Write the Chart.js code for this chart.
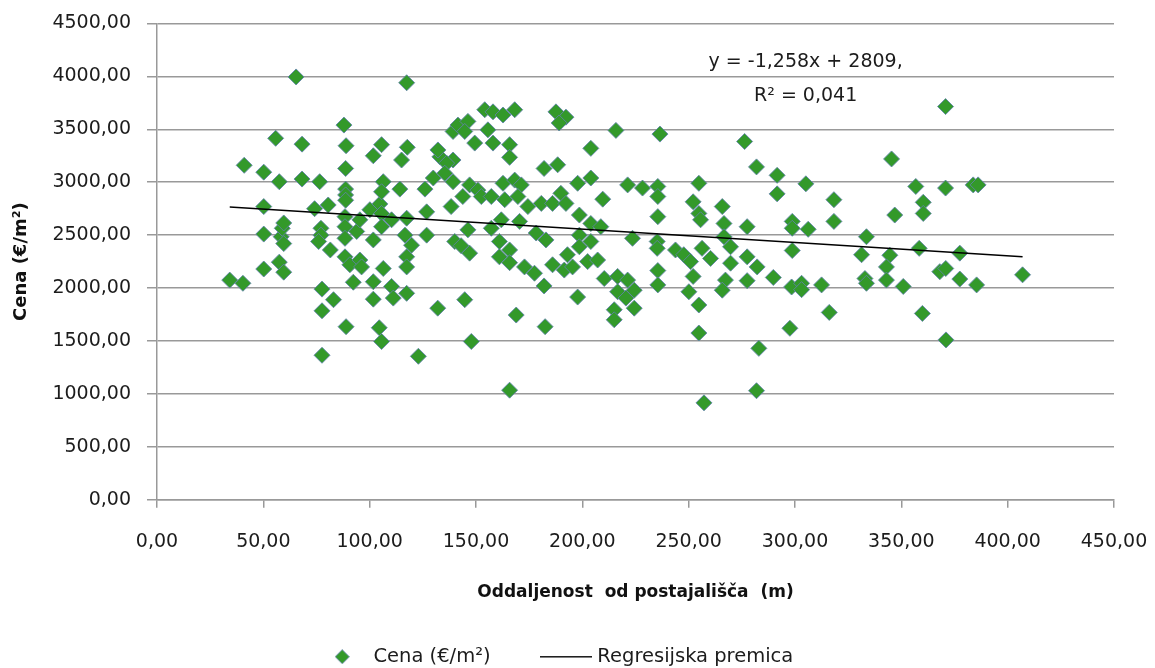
<!DOCTYPE html>
<html>
<head>
<meta charset="utf-8">
<script src="https://cdn.jsdelivr.net/npm/chart.js@4.4.1/dist/chart.umd.min.js"></script>
<style>
  html, body { margin: 0; padding: 0; background: #ffffff; }
  #wrap { width: 1155px; height: 668px; }
</style>
</head>
<body>
<div id="wrap"><canvas id="graf" width="1155" height="668"></canvas></div>
<script>
// Oddaljenost stanovanja od postajališča (m)
const oddaljenost = [
  34.2, 40.4, 41.0, 50.2, 50.2, 50.2, 50.2, 55.8, 57.5, 57.5,
  58.4, 58.9, 59.6, 59.6, 59.6, 65.4, 68.2, 68.2, 74.1, 76.5,
  77.1, 77.1, 76.0, 77.6, 77.6, 77.6, 80.5, 81.5, 83.0, 87.9,
  88.9, 88.7, 88.7, 88.7, 88.7, 88.4, 88.4, 88.4, 88.4, 88.9,
  90.7, 92.3, 93.9, 95.4, 95.4, 96.2, 100.1, 101.7, 101.7, 101.7,
  101.7, 104.8, 105.6, 106.4, 105.6, 105.6, 105.6, 106.4, 104.5, 105.6,
  110.3, 110.3, 111.1, 114.2, 115.0, 117.7, 117.4, 117.4, 116.6, 117.4,
  117.4, 117.4, 119.7, 122.9, 126.0, 126.8, 126.8, 129.9, 133.0, 132.1,
  139.2, 136.2, 135.3, 139.2, 132.0, 139.2, 141.5, 146.2, 144.7, 149.4,
  155.6, 158.0, 154.1, 158.0, 162.7, 168.2, 165.8, 165.8, 147.0, 150.9,
  162.7, 168.2, 171.3, 138.3, 143.8, 152.5, 157.2, 163.5, 169.7, 174.4,
  180.7, 146.2, 157.2, 161.9, 170.5, 178.3, 140.0, 143.0, 147.0, 161.0,
  165.8, 161.0, 165.8, 172.8, 177.5, 182.0, 144.7, 168.9, 182.5, 147.8,
  165.8, 182.0, 187.6, 192.3, 189.1, 215.8, 204.0, 188.4, 197.8, 204.0,
  221.3, 228.3, 189.9, 186.0, 192.3, 209.6, 198.6, 204.0, 208.7, 223.6,
  182.9, 198.6, 204.0, 198.6, 193.0, 186.0, 191.5, 195.4, 202.5, 207.2,
  210.3, 216.6, 221.3, 216.6, 220.5, 224.4, 224.4, 197.8, 215.0, 215.0,
  236.5, 276.3, 281.9, 235.5, 235.5, 254.8, 252.1, 254.8, 255.6, 265.8,
  266.6, 277.5, 235.5, 235.2, 235.2, 243.8, 247.7, 250.9, 256.3, 260.3,
  266.6, 269.7, 269.7, 277.5, 282.2, 235.5, 235.5, 252.1, 250.1, 254.8,
  267.3, 265.8, 277.5, 254.8, 283.0, 281.9, 257.2, 370.8, 345.4, 291.6,
  291.6, 305.1, 318.3, 318.3, 356.8, 370.8, 383.8, 386.1, 360.3, 360.3,
  346.9, 298.7, 298.7, 306.2, 333.6, 298.7, 331.3, 344.6, 358.4, 377.5,
  343.0, 289.8, 298.4, 303.1, 303.1, 312.5, 332.9, 333.6, 343.0, 350.9,
  368.1, 370.9, 377.5, 385.4, 407.0, 316.1, 359.9, 297.6, 371.0
];

// Cena stanovanja (€/m²)
const cena = [
  2075, 2045, 3160, 3095, 2770, 2510, 2180, 3415, 3005, 2245,
  2485, 2565, 2615, 2420, 2150, 3995, 3360, 3030, 2750, 3005,
  2565, 2500, 2440, 1990, 1785, 1365, 2785, 2360, 1890, 3540,
  3345, 3130, 2935, 2880, 2830, 2675, 2580, 2470, 2295, 1635,
  2220, 2055, 2535, 2645, 2265, 2200, 2740, 3250, 2455, 2060,
  1895, 2795, 3355, 3005, 2910, 2705, 2580, 2185, 1625, 1495,
  2645, 2015, 1905, 2935, 3210, 3330, 3940, 2660, 2500, 2295,
  2200, 1950, 2405, 1355, 2935, 2720, 2500, 3040, 3240, 3305,
  3210, 3180, 3085, 3005, 1810, 3480, 3540, 3575, 3480, 3370,
  3495, 3370, 3685, 3665, 3635, 3685, 3355, 3235, 2975, 2925,
  2990, 3020, 2975, 2770, 2865, 2865, 2865, 2835, 2865, 2770,
  2800, 2550, 2565, 2645, 2630, 2520, 2440, 2400, 2330, 2440,
  2360, 2295, 2240, 2200, 2140, 2020, 1890, 1745, 1635, 1495,
  1035, 3130, 3665, 3615, 3560, 3490, 3320, 3165, 2990, 3040,
  2975, 2945, 2895, 2800, 2800, 2840, 2690, 2610, 2580, 2470,
  2455, 2500, 2440, 2390, 2315, 2220, 2170, 2200, 2250, 2265,
  2090, 2110, 2075, 1965, 1905, 1980, 1810, 1915, 1795, 1700,
  3455, 3385, 3145, 2960, 2865, 2990, 2815, 2705, 2645, 2770,
  2610, 2580, 2675, 2440, 2375, 2360, 2315, 2250, 2375, 2280,
  2485, 2390, 2235, 2295, 2200, 2165, 2030, 2110, 1965, 1840,
  2075, 1980, 2070, 1575, 1430, 1030, 915, 3715, 3220, 3065,
  2890, 2985, 2835, 2630, 2960, 2945, 2975, 2975, 2810, 2705,
  2690, 2630, 2565, 2555, 2485, 2355, 2315, 2310, 2375, 2330,
  2200, 2100, 2010, 2045, 1985, 2030, 2090, 2045, 2075, 2015,
  2155, 2185, 2085, 2030, 2125, 1770, 1760, 1620, 1510
];

// Oznake osi
const xOznake = ['0,00', '50,00', '100,00', '150,00', '200,00', '250,00', '300,00', '350,00', '400,00', '450,00'];
const yOznake = ['0,00', '500,00', '1000,00', '1500,00', '2000,00', '2500,00', '3000,00', '3500,00', '4000,00', '4500,00'];

// Linearna regresija: y = naklon * x + presecisce
const naklon = -1.258;
const presecisce = 2809;
const enacbaVrstice = ['y = -1,258x + 2809,', 'R² = 0,041'];

// Postavitev besedila enačbe v enotah osi
const enacbaX = 305;
const enacbaY = [4140, 3815];

const ZELENA = '#33992a';
const ROB = 'rgba(96,130,170,0.85)';
const MREZA = '#999999';
const BESEDILO = '#1c1c1c';
const PISAVA = '"DejaVu Sans", Verdana, sans-serif';

const tocke = oddaljenost.map((x, i) => ({ x: x, y: cena[i] }));
const xMin = Math.min(...oddaljenost);
const xMax = Math.max(...oddaljenost);
const premica = [xMin, xMax].map(x => ({ x: x, y: naklon * x + presecisce }));

// Sličici za legendo
function romb(v) {
  const c = document.createElement('canvas');
  c.width = v; c.height = v;
  const g = c.getContext('2d');
  g.beginPath();
  g.moveTo(v / 2, 0.5); g.lineTo(v - 0.5, v / 2); g.lineTo(v / 2, v - 0.5); g.lineTo(0.5, v / 2);
  g.closePath();
  g.fillStyle = ZELENA; g.fill();
  g.strokeStyle = ROB; g.lineWidth = 1; g.stroke();
  return c;
}
function crta(d) {
  const c = document.createElement('canvas');
  c.width = d; c.height = 2;
  const g = c.getContext('2d');
  g.fillStyle = '#000000';
  g.fillRect(0, 0, d, 1.5);
  return c;
}
const rombLegenda = romb(15);
const crtaLegenda = crta(52);

// Velikosti legende in spodnje osi
const LEG_PISAVA = 19.5;
const LEG_RAZMIK = 54;
const SP_ROB = -8.5;
const LEG_VISINA = LEG_PISAVA + LEG_RAZMIK + 10;
const LEG_VRH = 668 - SP_ROB - LEG_VISINA;
const X_VISINA = LEG_VRH - 499.7;

const oznakaEnacbe = {
  id: 'oznakaEnacbe',
  afterDatasetsDraw(chart) {
    const { ctx, scales } = chart;
    ctx.save();
    ctx.font = '19px ' + PISAVA;
    ctx.fillStyle = BESEDILO;
    ctx.textAlign = 'center';
    ctx.textBaseline = 'middle';
    enacbaVrstice.forEach((t, i) => {
      ctx.fillText(t, scales.x.getPixelForValue(enacbaX), scales.y.getPixelForValue(enacbaY[i]));
    });
    ctx.restore();
  }
};

new Chart(document.getElementById('graf'), {
  type: 'scatter',
  data: {
    datasets: [
      {
        label: 'Cena (€/m²)',
        data: tocke,
        pointStyle: 'rectRot',
        pointRadius: 8,
        pointHoverRadius: 8,
        backgroundColor: ZELENA,
        borderColor: ROB,
        borderWidth: 1,
        order: 1
      },
      {
        type: 'line',
        label: 'Regresijska premica',
        data: premica,
        borderColor: '#000000',
        borderWidth: 1.5,
        pointRadius: 0,
        fill: false,
        tension: 0,
        order: 0
      }
    ]
  },
  options: {
    responsive: false,
    animation: false,
    devicePixelRatio: 1,
    layout: { padding: { top: 23.5, right: 41, bottom: SP_ROB, left: 0 } },
    plugins: {
      tooltip: { enabled: false },
      legend: {
        position: 'bottom',
        labels: {
          usePointStyle: true,
          pointStyleWidth: 43,
          padding: LEG_RAZMIK,
          color: BESEDILO,
          font: { family: PISAVA, size: LEG_PISAVA },
          generateLabels: () => [
            { text: 'Cena (€/m²)', pointStyle: rombLegenda, fillStyle: ZELENA, strokeStyle: ROB, lineWidth: 0, hidden: false, datasetIndex: 0, fontColor: BESEDILO },
            { text: 'Regresijska premica', pointStyle: crtaLegenda, fillStyle: '#000', strokeStyle: '#000', lineWidth: 0, hidden: false, datasetIndex: 1, fontColor: BESEDILO }
          ]
        }
      }
    },
    scales: {
      x: {
        type: 'linear',
        min: 0,
        max: 450,
        afterFit: (s) => { s.height = X_VISINA; s.paddingLeft = 0; s.paddingRight = 0; },
        ticks: {
          stepSize: 50,
          padding: 23,
          color: BESEDILO,
          font: { family: PISAVA, size: 19 },
          maxRotation: 0,
          callback: (v, i) => xOznake[i]
        },
        grid: { drawOnChartArea: false, drawTicks: true, tickLength: 8, color: MREZA, lineWidth: 1.5 },
        border: { display: true, color: MREZA, width: 1.5 },
        title: {
          display: true,
          text: 'Oddaljenost  od postajališča  (m)',
          color: '#111111',
          font: { family: PISAVA, size: 17, weight: 'bold' },
          padding: { top: 0, bottom: LEG_VRH - 593 - 10.2 }
        }
      },
      y: {
        type: 'linear',
        min: 0,
        max: 4500,
        afterFit: (s) => { s.width = 157; s.paddingTop = 0; s.paddingBottom = 0; },
        ticks: {
          stepSize: 500,
          padding: 16,
          color: BESEDILO,
          font: { family: PISAVA, size: 19 },
          callback: (v, i) => yOznake[i]
        },
        grid: { drawTicks: true, tickLength: 10, color: MREZA, lineWidth: 1.5 },
        border: { display: true, color: MREZA, width: 1.5 },
        title: {
          display: true,
          text: 'Cena (€/m²)',
          color: '#111111',
          font: { family: PISAVA, size: 18, weight: 'bold' },
          padding: { top: 11, bottom: 0 }
        }
      }
    }
  },
  plugins: [oznakaEnacbe]
});
</script>
</body>
</html>
